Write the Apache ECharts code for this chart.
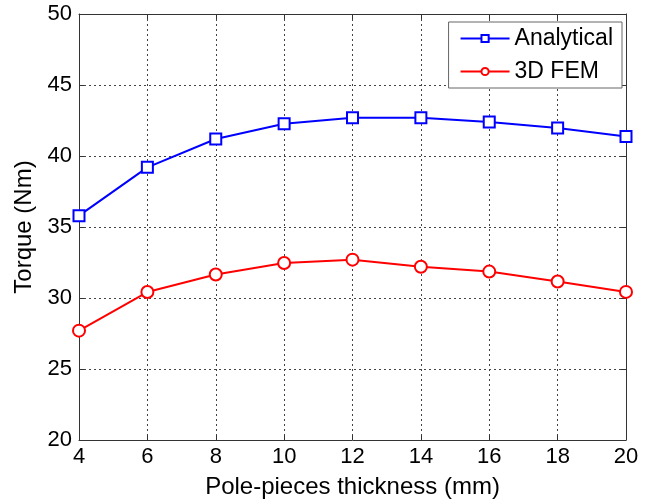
<!DOCTYPE html>
<html><head><meta charset="utf-8">
<script src="https://cdn.jsdelivr.net/npm/echarts@6/dist/echarts.min.js"></script>
<style>html,body{margin:0;padding:0;background:#fff}#c{width:653px;height:504px}</style>
</head><body><div id="c"></div>
<script>
const thickness = [4, 6, 8, 10, 12, 14, 16, 18, 20];
const analytical = [35.8, 39.2, 41.2, 42.27, 42.7, 42.7, 42.4, 41.97, 41.38];
const fem3d = [27.7, 30.42, 31.65, 32.47, 32.7, 32.2, 31.86, 31.16, 30.43];
const xTicks = {min: 4, max: 20, step: 2};
const yTicks = {min: 20, max: 50, step: 5};

const font = 'Liberation Sans, Arial, sans-serif';
const chart = echarts.init(document.getElementById('c'), null, {renderer: 'canvas'});
const gridLine = {show: true, lineStyle: {color: '#444', type: [2, 3], width: 1}};
const frameAxis = {show: true, lineStyle: {color: '#333'}};
const tick = {show: true, inside: true, length: 5, lineStyle: {color: '#333'}};
chart.setOption({
  animation: false,
  backgroundColor: '#fff',
  grid: {left: 79, right: 27, top: 14, bottom: 61, show: false, containLabel: false},
  legend: {
    data: ['Analytical', '3D FEM'],
    right: 31, top: 22, orient: 'vertical',
    backgroundColor: '#fff', borderColor: '#666', borderWidth: 1,
    padding: [5, 9, 5, 11], itemGap: 10, itemWidth: 49, itemHeight: 9,
    textStyle: {fontFamily: font, fontSize: 23, color: '#000'}
  },
  xAxis: [{
    type: 'value', min: xTicks.min, max: xTicks.max, interval: xTicks.step,
    name: 'Pole-pieces thickness (mm)', nameLocation: 'middle', nameGap: 35,
    nameTextStyle: {fontFamily: font, fontSize: 24, color: '#000'},
    axisLine: frameAxis, axisTick: tick,
    axisLabel: {fontFamily: font, fontSize: 22, color: '#000', margin: 6},
    splitLine: gridLine
  }, {
    type: 'value', position: 'top', min: xTicks.min, max: xTicks.max, interval: xTicks.step,
    axisLine: frameAxis, axisTick: tick,
    axisLabel: {show: false}, splitLine: {show: false}
  }],
  yAxis: [{
    type: 'value', min: yTicks.min, max: yTicks.max, interval: yTicks.step,
    name: 'Torque (Nm)', nameLocation: 'middle', nameGap: 42, nameRotate: 90,
    nameTextStyle: {fontFamily: font, fontSize: 24, color: '#000'},
    axisLine: frameAxis, axisTick: tick,
    axisLabel: {fontFamily: font, fontSize: 22, color: '#000', margin: 7},
    splitLine: gridLine
  }, {
    type: 'value', position: 'right', min: yTicks.min, max: yTicks.max, interval: yTicks.step,
    axisLine: frameAxis, axisTick: tick,
    axisLabel: {show: false}, splitLine: {show: false}
  }],
  series: [{
    name: 'Analytical', type: 'line',
    data: thickness.map((x, i) => [x, analytical[i]]),
    symbol: 'rect', symbolSize: 11, showAllSymbol: true,
    lineStyle: {color: '#0000ff', width: 2},
    itemStyle: {color: '#fff', borderColor: '#0000ff', borderWidth: 2},
    emphasis: {disabled: true}
  }, {
    name: '3D FEM', type: 'line',
    data: thickness.map((x, i) => [x, fem3d[i]]),
    symbol: 'circle', symbolSize: 12, showAllSymbol: true,
    lineStyle: {color: '#ff0000', width: 2},
    itemStyle: {color: '#fff', borderColor: '#ff0000', borderWidth: 2},
    emphasis: {disabled: true}
  }]
});
</script></body></html>
